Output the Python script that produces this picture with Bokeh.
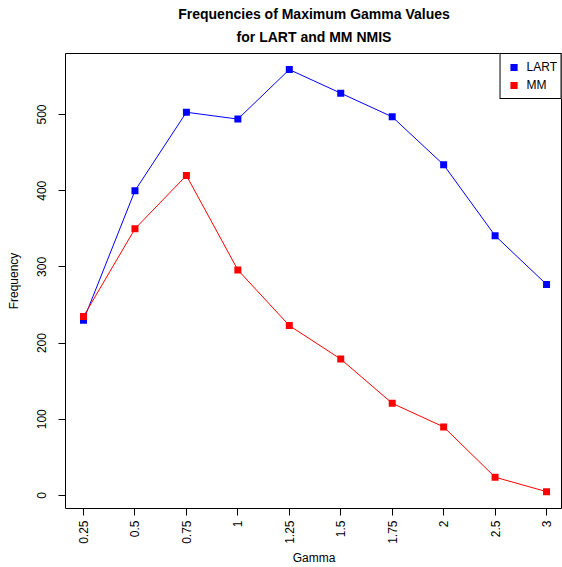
import math

from bokeh.plotting import figure
from bokeh.models import Title, FixedTicker, Legend, LegendItem, Range1d
from bokeh.embed import file_html
from bokeh.resources import INLINE

# Data: frequency of maximum gamma per method
gamma_labels = ["0.25", "0.5", "0.75", "1", "1.25", "1.5", "1.75", "2", "2.5", "3"]
lart_freq = [230, 400, 503, 494, 559, 528, 497, 434, 341, 277]
mm_freq = [235, 350, 420, 296, 223, 179, 121, 90, 24, 5]
y_ticks = [0, 100, 200, 300, 400, 500]

positions = list(range(1, len(gamma_labels) + 1))

FONT = "Liberation Sans"

p = figure(
    width=562, height=567,
    output_backend="svg", toolbar_location=None,
    x_range=Range1d(0.65, 10.31), y_range=Range1d(-17.1, 580.1),
    min_border_left=65, min_border_right=0,
    min_border_top=53, min_border_bottom=59,
)
p.background_fill_color = "white"
p.border_fill_color = "white"
p.outline_line_color = "black"
p.outline_line_width = 1
p.xgrid.visible = False
p.ygrid.visible = False

# Two-line bold title, each line centred; the second line sits nearest the frame
t2 = Title(text="for LART and MM NMIS", align="center", vertical_align="top",
           text_font=FONT, text_font_size="14px", text_font_style="bold",
           text_color="black", padding=0, offset=0, standoff=14)
t1 = Title(text="Frequencies of Maximum Gamma Values", align="center",
           text_font=FONT, text_font_size="14px", text_font_style="bold",
           text_color="black", padding=0, offset=0, standoff=0)
p.add_layout(t2, "above")
p.add_layout(t1, "above")

# Axes
for ax in (p.xaxis[0], p.yaxis[0]):
    ax.axis_line_color = None
    ax.major_tick_line_color = "black"
    ax.major_tick_out = 7
    ax.major_tick_in = 0
    ax.minor_tick_line_color = None
    ax.major_label_text_font = FONT
    ax.major_label_text_font_size = "12px"
    ax.major_label_text_color = "black"
    ax.axis_label_text_font = FONT
    ax.axis_label_text_font_size = "12px"
    ax.axis_label_text_font_style = "normal"
    ax.axis_label_text_color = "black"

p.xaxis.ticker = FixedTicker(ticks=positions)
p.xaxis.major_label_overrides = {i: lab for i, lab in zip(positions, gamma_labels)}
p.xaxis.major_label_orientation = math.pi / 2
p.xaxis.major_label_standoff = 5
p.xaxis.axis_label = "Gamma"
p.xaxis.axis_label_standoff = 4

p.yaxis.ticker = FixedTicker(ticks=y_ticks)
p.yaxis.major_label_orientation = "vertical"
p.yaxis.major_label_standoff = 12
p.yaxis.axis_label = "Frequency"
p.yaxis.axis_label_standoff = 14

# Series
p.line(positions, lart_freq, line_color="#0000FF", line_width=1)
r_lart = p.scatter(positions, lart_freq, marker="square", size=7,
                   fill_color="#0000FF", line_color=None)
p.line(positions, mm_freq, line_color="#FF0000", line_width=1)
r_mm = p.scatter(positions, mm_freq, marker="square", size=7,
                 fill_color="#FF0000", line_color=None)

legend = Legend(
    items=[LegendItem(label="LART", renderers=[r_lart]),
           LegendItem(label="MM", renderers=[r_mm])],
    location="top_right", margin=0, padding=4, spacing=0,
    glyph_width=18, glyph_height=18, label_height=15, label_standoff=4,
    label_text_font=FONT, label_text_font_size="12px", label_text_color="black",
    border_line_color="black", border_line_width=1, border_line_alpha=1,
    background_fill_color="white", background_fill_alpha=1,
)
p.add_layout(legend)

open("out.html", "w").write(file_html(p, INLINE))
